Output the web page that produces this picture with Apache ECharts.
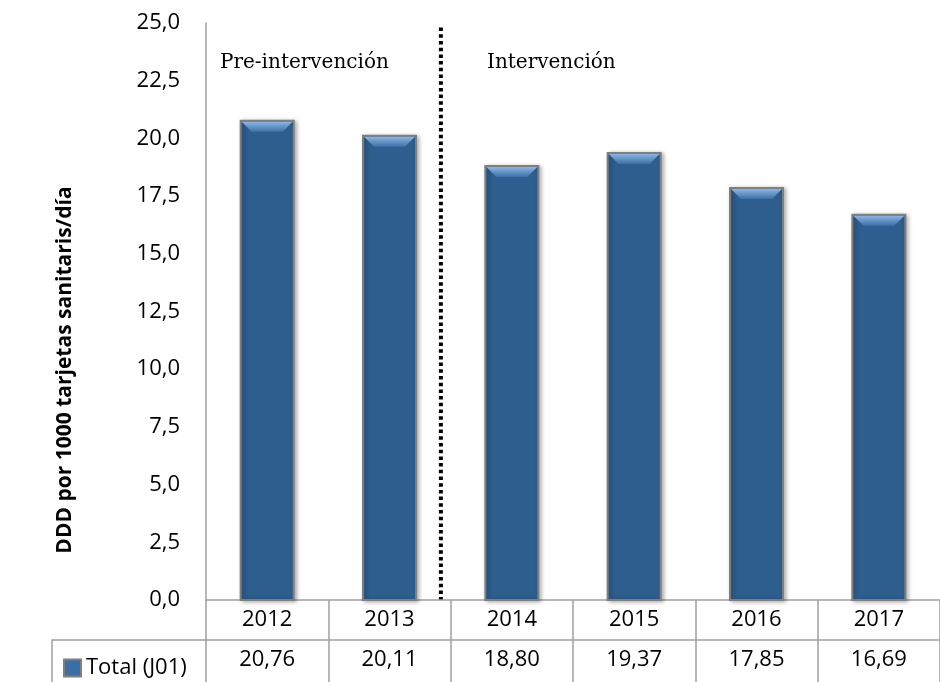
<!DOCTYPE html>
<html>
<head>
<meta charset="utf-8">
<script src="https://cdn.jsdelivr.net/npm/echarts@6/dist/echarts.min.js"></script>
<style>
  html, body { margin: 0; padding: 0; background: #fff; }
  #main { width: 940px; height: 682px; }
</style>
</head>
<body>
<div id="main"></div>
<script>
const years = ['2012', '2013', '2014', '2015', '2016', '2017'];
const totalJ01 = [20.76, 20.11, 18.80, 19.37, 17.85, 16.69];
const seriesName = 'Total (J01)';
const yTitle = 'DDD por 1000 tarjetas sanitaris/día';
const phaseLabels = ['Pre-intervención', 'Intervención'];

const gray = '#a0a0a0';
const sans = '"Open Sans", "Noto Sans", sans-serif';
const comma = v => v.toFixed(2).replace('.', ',');

window.onload = function () {
  const chart = echarts.init(document.getElementById('main'));

  function renderBar(params, api) {
    const idx = api.value(0);
    const top = api.coord([idx, api.value(1)]);
    const base = api.coord([idx, 0]);
    const w = 53, b = 11;
    const x0 = top[0] - w / 2, x1 = top[0] + w / 2, y0 = top[1], y1 = base[1];
    return {
      type: 'group',
      children: [
        {
          type: 'rect',
          shape: { x: x0, y: y0, width: w, height: y1 - y0 },
          style: {
            fill: '#2d5e8e', stroke: '#7f7f7f', lineWidth: 2,
            shadowBlur: 4, shadowColor: 'rgba(0,0,0,0.3)', shadowOffsetX: 2, shadowOffsetY: 1
          }
        },
        {
          type: 'polygon',
          shape: { points: [[x0 + 1, y0 + 1], [x1 - 1, y0 + 1], [x1 - b, y0 + b], [x0 + b, y0 + b]] },
          style: {
            fill: new echarts.graphic.LinearGradient(0, 0, 0, 1, [
              { offset: 0, color: '#8cb4e0' },
              { offset: 1, color: '#3c70a8' }
            ])
          }
        }
      ]
    };
  }

  const option = {
    animation: false,
    grid: { left: 206, right: -2, top: 23, bottom: 82 },
    legend: {
      data: [seriesName],
      left: 58, top: 652,
      icon: 'rect', itemWidth: 17, itemHeight: 17, itemGap: 6,
      textStyle: { fontFamily: sans, fontSize: 22, color: '#000' }
    },
    xAxis: [
      {
        type: 'category',
        data: years,
        axisLine: { lineStyle: { color: gray, width: 1.5 } },
        axisTick: { show: true, length: 82, interval: 0, lineStyle: { color: gray, width: 1.5 } },
        axisLabel: { fontFamily: sans, fontSize: 22, color: '#000', margin: 9 }
      },
      {
        type: 'category',
        position: 'bottom',
        offset: 40,
        data: totalJ01.map(comma),
        axisLine: { lineStyle: { color: gray, width: 1.5 } },
        axisTick: { show: false },
        axisLabel: { fontFamily: sans, fontSize: 22, color: '#000', margin: 9 }
      }
    ],
    yAxis: {
      type: 'value',
      min: 0, max: 25, interval: 2.5,
      axisLine: { show: true, lineStyle: { color: gray, width: 1.5 } },
      axisTick: { show: false },
      splitLine: { show: false },
      axisLabel: {
        fontFamily: sans, fontSize: 22, color: '#000', margin: 26,
        formatter: v => v.toFixed(1).replace('.', ',')
      }
    },
    series: [
      {
        name: seriesName,
        type: 'custom',
        xAxisIndex: 0,
        renderItem: renderBar,
        itemStyle: { color: '#3a6ea5', borderColor: '#7f7f7f', borderWidth: 2 },
        encode: { x: 0, y: 1 },
        data: totalJ01.map((v, i) => [i, v])
      }
    ]
  };
  chart.setOption(option);

  const p1 = chart.convertToPixel({ xAxisIndex: 0 }, years[1]);
  const p2 = chart.convertToPixel({ xAxisIndex: 0 }, years[2]);
  const divX = p1 + 0.42 * (p2 - p1);
  const yTop = chart.convertToPixel({ yAxisIndex: 0 }, 24.8);
  const yBase = chart.convertToPixel({ yAxisIndex: 0 }, 0);
  const left = chart.convertToPixel({ xAxisIndex: 0 }, years[0]) - (p2 - p1) / 2;

  chart.setOption({
    graphic: [
      {
        type: 'line',
        shape: { x1: divX, y1: yTop, x2: divX, y2: yBase },
        style: { stroke: '#000', lineWidth: 4, lineDash: [3.5, 3.2] }
      },
      {
        type: 'text', left: 220, top: 53,
        style: { text: phaseLabels[0], font: '20px "DejaVu Serif", serif', fill: '#000' }
      },
      {
        type: 'text', left: 487, top: 53,
        style: { text: phaseLabels[1], font: '20px "DejaVu Serif", serif', fill: '#000' }
      },
      {
        type: 'polyline',
        shape: { points: [[52, 682], [52, yBase + 40], [left, yBase + 40]] },
        style: { stroke: gray, lineWidth: 1.5, fill: null }
      },
      {
        type: 'text', x: 65, y: 370, rotation: Math.PI / 2,
        style: {
          text: yTitle, font: 'bold 21px "Open Sans", "Noto Sans", sans-serif',
          fill: '#000', align: 'center', verticalAlign: 'middle'
        }
      }
    ]
  });
};
</script>
</body>
</html>
